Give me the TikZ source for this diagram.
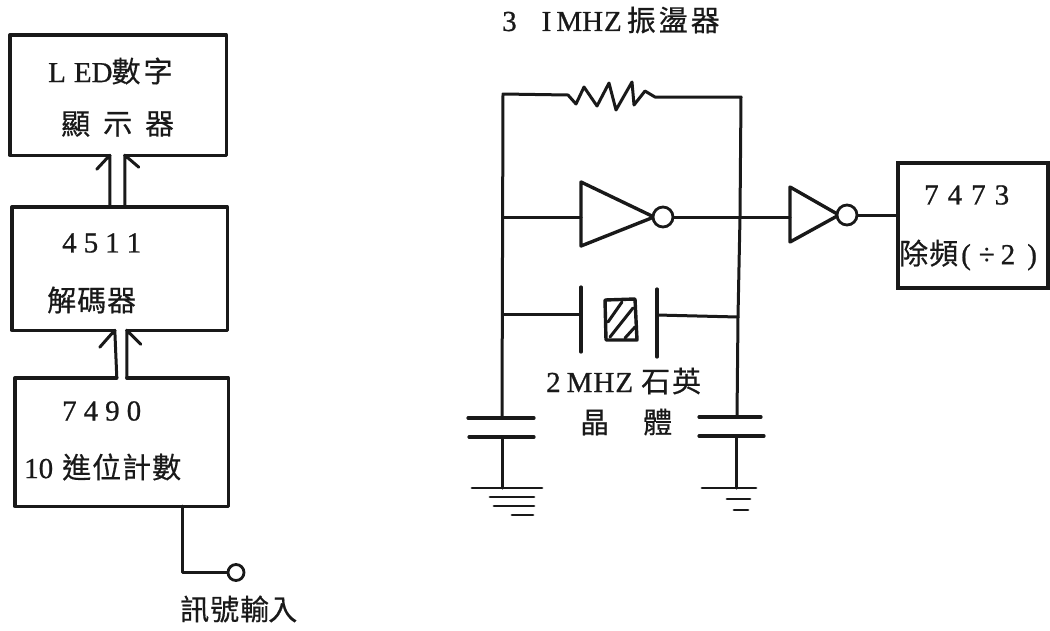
\documentclass[tikz,border=0pt]{standalone}
\usepackage{fontspec}
\setmainfont{Liberation Serif}[FakeBold=0.8]
\newfontfamily\cjk{Noto Sans CJK TC}[FakeBold=0.5]
\usetikzlibrary{calc}
\newcommand{\zh}[1]{{\cjk #1}}
\colorlet{ink}{black!90}
\tikzset{
  x=1pt,y=-1pt,
  wire/.style={line width=3pt,line cap=round,line join=round,ink},
  boxline/.style={line width=3.4pt,line join=round,line cap=round,ink},
  plate/.style={line width=3.2pt,line cap=round,ink},
  thinplate/.style={line width=2.8pt,line cap=round,ink},
  lbl/.style={inner sep=0pt,anchor=west,font=\fontsize{29}{32}\selectfont,text=ink},
  bubble/.style={circle,draw=ink,line width=2.8pt,fill=white,inner sep=0pt,minimum size=20pt},
  pin/.style={circle,draw=ink,line width=2.8pt,fill=white,inner sep=0pt,minimum size=16pt},
}
\begin{document}
\begin{tikzpicture}
\useasboundingbox (0,0) rectangle (1050,630);
% block outlines as invisible nodes
\node[inner sep=0pt,minimum width=216pt,minimum height=120pt] (led) at (118,95) {};
\node[inner sep=0pt,minimum width=215pt,minimum height=123pt] (dec) at (119.5,268.5) {};
\node[inner sep=0pt,minimum width=213pt,minimum height=128pt] (cnt) at (121.5,442) {};
\node[draw=ink,line width=3.2pt,inner sep=0pt,minimum width=150pt,minimum height=125pt] (div) at (973,225.5) {};
% left chain
\coordinate (ledL) at ($(led.south west)+(100,0)$);
\coordinate (ledR) at ($(led.south west)+(115,0)$);
\coordinate (decL) at ($(dec.south west)+(103,0)$);
\coordinate (decR) at ($(dec.south west)+(115,0)$);
\coordinate (cntL) at ($(cnt.north west)+(102,0)$);
\coordinate (cntR) at ($(cnt.north west)+(112,0)$);
\draw[boxline] (ledL) -- (led.south west) -- (led.north west) -- (led.north east) -- (led.south east) -- (ledR);
\draw[boxline] (decL) -- (dec.south west) -- (dec.north west) -- (dec.north east) -- (dec.south east) -- (decR);
\draw[boxline] (cntL) -- (cnt.north west) -- (cnt.south west) -- (cnt.south east) -- (cnt.north east) -- (cntR);
% double arrows with outer barbs
\draw[wire] (ledL |- dec.north) -- (ledL) -- ++(-13,14);
\draw[wire] (ledR |- dec.north) -- (ledR) -- ++(14,12);
\draw[wire] (cntL) -- (decL) -- ++(-15,17);
\draw[wire] (cntR) -- (decR) -- ++(14,14);
% input
\node[pin] (inp) at (236,572.5) {};
\draw[wire] ($(cnt.south west)+(168,0)$) |- (inp);
% left block texts
\node[lbl] (t1) at (48,71) {L\hspace{8pt}ED\hspace{-1pt}\zh{數\hspace{3pt}字}};
\node[lbl] (t2) at (61,124) {\zh{顯\hspace{13pt}示\hspace{13pt}器}};
\node[lbl] (t3) at (62,243) {4\hspace{7pt}5\hspace{7pt}1\hspace{7pt}1};
\node[lbl] (t4) at (47,300) {\zh{解\hspace{1pt}碼\hspace{1pt}器}};
\node[lbl] (t5) at (62,411) {7\hspace{7pt}4\hspace{7pt}9\hspace{7pt}0};
\node[lbl] (t6) at (24,467) {10\hspace{9pt}\zh{進\hspace{1pt}位\hspace{1pt}計\hspace{1pt}數}};
\node[lbl] (t7) at (180,609) {\zh{訊\hspace{1pt}號\hspace{1pt}輸\hspace{-1pt}入}};
\node[lbl] (t8) at (502,20) {3\hspace{25pt}I\hspace{5pt}M\hspace{0pt}H\hspace{1pt}Z\hspace{5pt}\zh{振\hspace{3pt}盪\hspace{3pt}器}};
\node[lbl] (t9) at (546,381) {2\hspace{6pt}M\hspace{1pt}H\hspace{1pt}Z\hspace{8pt}\zh{石\hspace{2pt}英}};
\node[lbl] (t10) at (580,422) {\zh{晶\hspace{34pt}體}};
\node[lbl] (t11) at (924,195) {7\hspace{9pt}4\hspace{9pt}7\hspace{9pt}3};
\node[lbl] (t12) at (899,255) {\zh{除\hspace{1pt}頻}\hspace{3pt}(\hspace{8pt}÷\hspace{6pt}2\hspace{12pt})};
% rails and junctions
\coordinate (tl) at (503,94);
\coordinate (tr) at (741,97);
\coordinate (invinJ) at (503,217);
\coordinate (outJ) at (740,217);
\coordinate (xlJ) at (503,314);
\coordinate (xrJ) at (738,317);
\coordinate (capLt) at (502,418);
\coordinate (capRt) at (737,417);
% resistor
\draw[wire] (capLt) -- (tl) -- (568,95) -- (576,104) -- (584,87) -- (597,106) -- (609,83) -- (616,110) -- (632,82) -- (634,105) -- (645,91) -- (655,97) -- (tr) -- (outJ) -- (xrJ) -- (capRt);
% inverter 1
\coordinate (a1) at (581,182);
\coordinate (a2) at (581,246);
\coordinate (a3) at (654,217);
\draw[boxline] (a1) -- (a3) -- (a2) -- cycle;
\node[bubble] (b1) at (663,217) {};
\draw[wire] (invinJ) -- (a1 |- invinJ);
% inverter 2
\coordinate (c1) at (790,187);
\coordinate (c2) at (790,242);
\coordinate (c3) at (839,215);
\draw[boxline] (c1) -- (c3) -- (c2) -- cycle;
\node[bubble] (b2) at (847,215) {};
\draw[wire] (b1) -- (c1 |- b1);
\draw[wire] (b2) -- (b2 -| div.west);
% crystal
\coordinate (pL) at (581,314);
\coordinate (pR) at (657,315);
\draw[plate] (581,287) -- (581,352);
\draw[plate] (657,289) -- (657,357);
\draw[wire] (xlJ) -- (pL);
\draw[wire] (pR) -- (xrJ);
\draw[boxline] (605,300) -- (635,299) -- (637,340) -- (606,340) -- cycle;
\draw[wire] (608,322) -- (622,302);
\draw[wire] (610,337) -- (633,308);
\draw[wire] (625,338) -- (635,327);
% left capacitor and ground
\draw[plate] (468,418) -- (534,418);
\draw[plate] (469,437) -- (534,437);
\draw[wire] (502,437) -- (502,488);
\draw[thinplate] (472,488) -- (542,488);
\draw[thinplate] (490,497) -- (534,497);
\draw[thinplate] (494,506) -- (534,506);
\draw[thinplate] (512,515) -- (533,515);
% right capacitor and ground
\draw[plate] (699,417) -- (761,417);
\draw[plate] (699,436) -- (764,436);
\draw[wire] (736,436) -- (736,488);
\draw[thinplate] (702,488) -- (756,488);
\draw[thinplate] (727,499) -- (750,499);
\draw[thinplate] (734,510) -- (748,510);
\end{tikzpicture}
\end{document}
